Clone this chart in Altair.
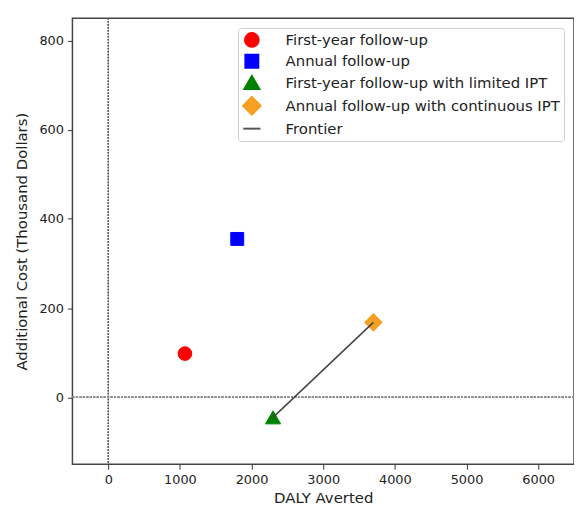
import altair as alt
import pandas as pd

strategies = [
    "First-year follow-up",
    "Annual follow-up",
    "First-year follow-up with limited IPT",
    "Annual follow-up with continuous IPT",
]
daly_averted = [1070, 1800, 2300, 3700]
additional_cost = [98, 355, -45, 168]
frontier_members = [
    "First-year follow-up with limited IPT",
    "Annual follow-up with continuous IPT",
]
legend_items = strategies + ["Frontier"]
colors = ["#ff0000", "#0000ff", "#008000", "#f5a023", "#555555"]
shapes = ["circle", "square", "triangle-up", "diamond", "stroke"]
marker_sizes = [190, 170, 230, 320, 300]
x_ticks = [0, 1000, 2000, 3000, 4000, 5000, 6000]
y_ticks = [0, 200, 400, 600, 800]

df = pd.DataFrame({"strategy": strategies, "daly": daly_averted, "cost": additional_cost})

FONT = "DejaVu Sans"
xscale = alt.Scale(domain=[-500, 6500], nice=False, zero=False)
yscale = alt.Scale(domain=[-150, 850], nice=False, zero=False)

xax = alt.Axis(values=x_ticks, format="d", grid=False, domain=False, tickSize=5, tickColor="#333",
               labelFontSize=13, labelColor="#222", titleFontSize=15, titleColor="#222",
               titleFontWeight="normal", labelFont=FONT, titleFont=FONT,
               titlePadding=5, labelPadding=4)
yax = alt.Axis(values=y_ticks, format="d", grid=False, domain=False, tickSize=5, tickColor="#333",
               labelFontSize=13, labelColor="#222", titleFontSize=15, titleColor="#222",
               titleFontWeight="normal", labelFont=FONT, titleFont=FONT,
               titlePadding=10, labelPadding=4)

base = alt.Chart(df)

vrule = base.mark_rule(color="#555", strokeDash=[1.5, 1.5], strokeWidth=1).encode(
    x=alt.datum(0, scale=xscale)
)
hrule = base.mark_rule(color="#888", strokeDash=[2, 1.5], strokeWidth=1.5).encode(
    y=alt.datum(0, scale=yscale)
)

legend = alt.Legend(
    title=None, orient="none", legendX=167, legendY=10,
    strokeColor="#cccccc", fillColor="white", cornerRadius=3, padding=4,
    symbolStrokeWidth=2, labelFontSize=15, labelColor="#222",
    labelFont=FONT, labelLimit=0, labelOffset=24, rowPadding=-0.5,
)

points = base.mark_point(filled=True, opacity=1, strokeWidth=1).encode(
    x=alt.X("daly:Q", scale=xscale, axis=xax, title="DALY Averted"),
    y=alt.Y("cost:Q", scale=yscale, axis=yax, title="Additional Cost (Thousand Dollars)"),
    color=alt.Color("strategy:N", scale=alt.Scale(domain=legend_items, range=colors), legend=legend),
    stroke=alt.Stroke("strategy:N", scale=alt.Scale(domain=legend_items, range=colors), legend=legend),
    shape=alt.Shape("strategy:N", scale=alt.Scale(domain=legend_items, range=shapes), legend=legend),
    size=alt.Size("strategy:N", scale=alt.Scale(type="ordinal", domain=legend_items, range=marker_sizes), legend=legend),
)

line = base.transform_filter(
    alt.FieldOneOfPredicate(field="strategy", oneOf=frontier_members)
).mark_line(color="#444", strokeWidth=1.5).encode(
    x=alt.X("daly:Q", scale=xscale),
    y=alt.Y("cost:Q", scale=yscale),
    order="daly:Q",
)

chart = alt.layer(vrule, hrule, points, line).properties(
    width=506, height=450, autosize="none",
    padding={"left": 65, "top": 8, "right": 0, "bottom": 45},
).configure(background="white").configure_view(stroke="#444", strokeWidth=1.5)

chart.save("out.html", embed_options={"renderer": "svg", "actions": False})
